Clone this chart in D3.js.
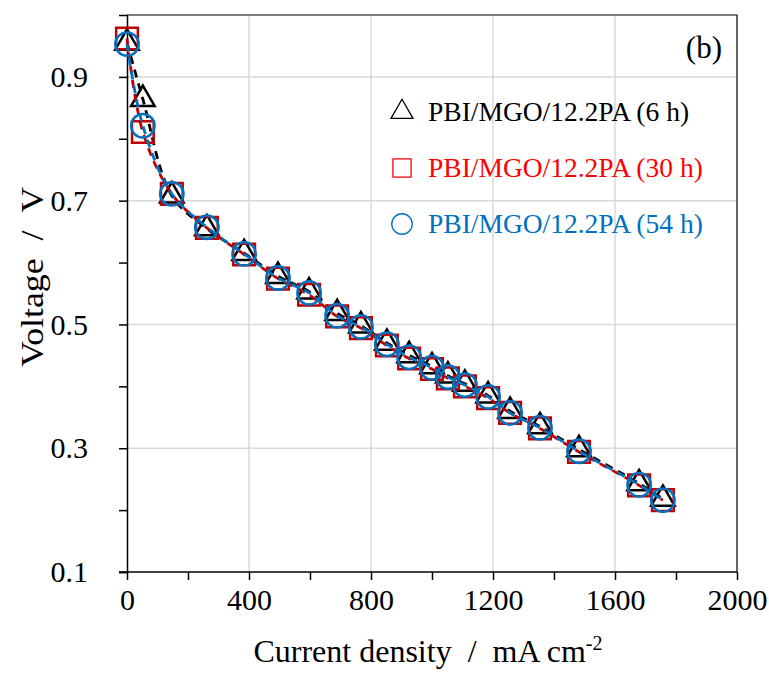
<!DOCTYPE html>
<html>
<head>
<meta charset="utf-8">
<title>Polarization curves</title>
<script src="https://d3js.org/d3.v7.min.js"></script>
<style>
body { margin: 0; background: #fff; }
text { font-family: "Liberation Serif", "Times New Roman", serif; }
.grid line { stroke: #d9d9d9; stroke-width: 1.5; }
</style>
</head>
<body>
<script>
// current density (mA cm-2), shared by the three runs
var current = [0, 52, 147, 262, 384, 495, 597, 689, 767, 852, 925, 1000, 1052, 1108, 1184, 1256, 1354, 1482, 1679, 1757];
// voltage (V)
var v6h  = [0.955, 0.864, 0.708, 0.655, 0.615, 0.578, 0.553, 0.518, 0.498, 0.470, 0.450, 0.432, 0.417, 0.404, 0.385, 0.360, 0.335, 0.298, 0.243, 0.218];
var v30h = [0.962, 0.811, 0.711, 0.656, 0.613, 0.574, 0.548, 0.513, 0.494, 0.466, 0.445, 0.428, 0.413, 0.400, 0.381, 0.357, 0.332, 0.294, 0.240, 0.216];
var v54h = [0.953, 0.821, 0.711, 0.657, 0.614, 0.575, 0.551, 0.514, 0.496, 0.468, 0.447, 0.430, 0.415, 0.402, 0.383, 0.357, 0.333, 0.295, 0.241, 0.216];

var seriesNames = ["PBI/MGO/12.2PA (6 h)", "PBI/MGO/12.2PA (30 h)", "PBI/MGO/12.2PA (54 h)"];
var xTicks = [0, 400, 800, 1200, 1600, 2000];
var yTicks = [0.1, 0.3, 0.5, 0.7, 0.9];

var width = 769, height = 673;
var svg = d3.select("body").append("svg")
    .attr("width", width)
    .attr("height", height);

var x = d3.scaleLinear().domain([0, 2000]).range([127, 737]);
var y = d3.scaleLinear().domain([0.1, 1.0]).range([572, 15]);

// gridlines
var grid = svg.append("g").attr("class", "grid");
grid.selectAll(".gx").data(xTicks.slice(1, -1)).enter().append("line")
    .attr("x1", d => x(d)).attr("x2", d => x(d))
    .attr("y1", y(0.1)).attr("y2", y(1.0));
grid.selectAll(".gy").data(yTicks.slice(1)).enter().append("line")
    .attr("x1", x(0)).attr("x2", x(2000))
    .attr("y1", d => y(d)).attr("y2", d => y(d));

// frame (top and right)
svg.append("path")
    .attr("d", "M" + x(0) + "," + y(1.0) + "H" + x(2000) + "V" + y(0.1))
    .attr("fill", "none").attr("stroke", "#000").attr("stroke-width", 1.2);

// axes
var xAxis = svg.append("g")
    .attr("transform", "translate(0," + y(0.1) + ")")
    .call(d3.axisBottom(x).tickValues(d3.range(0, 2001, 200)).tickSize(8).tickPadding(9)
        .tickFormat(d => xTicks.indexOf(d) >= 0 ? d : ""));
var yAxis = svg.append("g")
    .attr("transform", "translate(" + x(0) + ",0)")
    .call(d3.axisLeft(y).tickValues(d3.range(1, 10).map(d => d / 10)).tickSize(8).tickPadding(31)
        .tickFormat(d => yTicks.some(t => Math.abs(t - d) < 1e-9) ? d3.format(".1f")(d) : ""));

[xAxis, yAxis].forEach(function(a) {
  a.select(".domain").attr("stroke", "#000").attr("stroke-width", 1.5);
  a.selectAll(".tick line").attr("stroke", "#000").attr("stroke-width", 1.5);
  a.selectAll(".tick text").attr("fill", "#000")
    .style("font-family", "'Liberation Serif', serif").style("font-size", "30px");
});
xAxis.select(".domain").attr("d", "M" + (x(0) - 8) + ",0H" + x(2000));

// axis titles
svg.append("text")
    .attr("x", 428).attr("y", 662)
    .attr("text-anchor", "middle")
    .style("font-size", "32px")
    .html("Current density&#160;&#160;/&#160;&#160;mA cm<tspan dy='-12' font-size='20'>-2</tspan>");
svg.append("text")
    .attr("transform", "translate(43,277) rotate(-90)")
    .attr("text-anchor", "middle")
    .attr("textLength", 180)
    .attr("lengthAdjust", "spacingAndGlyphs")
    .style("font-size", "32px")
    .text("Voltage\u00a0\u00a0/\u00a0\u00a0V");

svg.append("text")
    .attr("x", 722).attr("y", 58)
    .attr("text-anchor", "end")
    .style("font-size", "31px")
    .text("(b)");

var colors = ["#000000", "#c00000", "#0070c0"];
var legendColors = ["#000000", "#ff0000", "#0070c0"];
var symbols = [d3.symbolTriangle, d3.symbolSquare, d3.symbolCircle];
var sizes = [240, 470, 430];
var voltages = [v6h, v30h, v54h];

var line = d3.line()
    .x(d => x(d[0]))
    .y(d => y(d[1]))
    .curve(d3.curveCatmullRom);

voltages.forEach(function(vals, i) {
  var pts = current.map((c, j) => [c, vals[j]]);
  svg.append("path")
    .datum(pts)
    .attr("fill", "none")
    .attr("stroke", colors[i])
    .attr("stroke-width", 2.8)
    .attr("stroke-dasharray", "8,6")
    .attr("d", line);
  svg.selectAll(".m" + i).data(pts).enter().append("path")
    .attr("transform", d => "translate(" + x(d[0]) + "," + y(d[1]) + ")")
    .attr("d", d3.symbol().type(symbols[i]).size(sizes[i]))
    .attr("fill", "none")
    .attr("stroke", colors[i])
    .attr("stroke-width", 2.5);
});

// legend
var legend = svg.append("g");
seriesNames.forEach(function(name, i) {
  var ly = 112 + i * 56;
  legend.append("path")
    .attr("transform", "translate(402," + ly + ")")
    .attr("d", d3.symbol().type(symbols[i]).size([210, 330, 330][i]))
    .attr("fill", "none")
    .attr("stroke", legendColors[i])
    .attr("stroke-width", 1.3);
  legend.append("text")
    .attr("x", 428).attr("y", ly + 9)
    .attr("fill", legendColors[i])
    .style("font-size", "27.5px")
    .text(name);
});
</script>
</body>
</html>
